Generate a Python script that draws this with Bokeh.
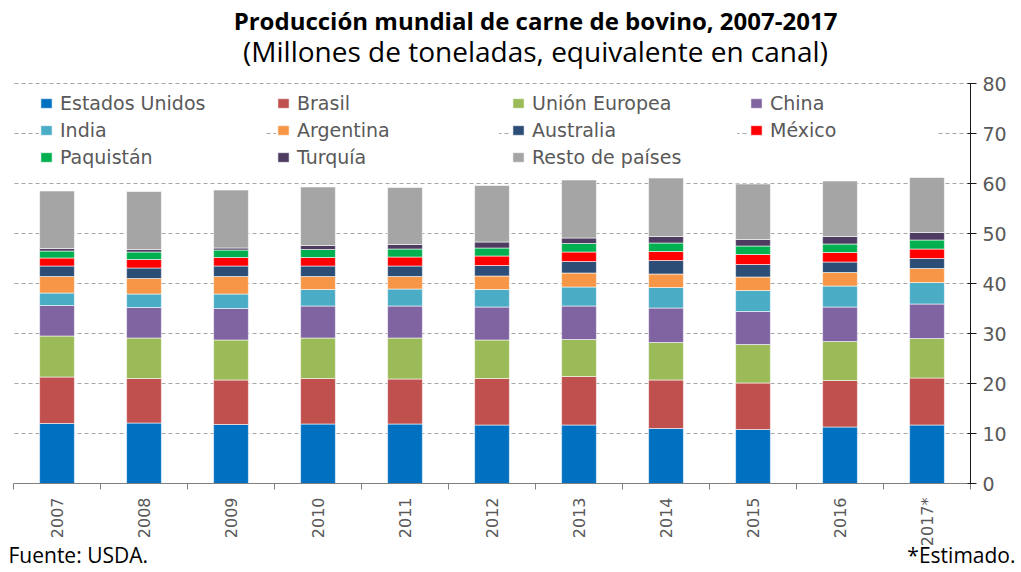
import math
from bokeh.plotting import figure
from bokeh.models import (ColumnDataSource, FixedTicker, Range1d, Label, Legend, LegendItem,
                          LinearAxis)
from bokeh.embed import file_html
from bokeh.resources import INLINE

years = ["2007", "2008", "2009", "2010", "2011", "2012", "2013", "2014", "2015", "2016", "2017*"]
estados_unidos = [12.0, 12.1, 11.8, 11.9, 11.9, 11.7, 11.7, 11.0, 10.8, 11.3, 11.7]
brasil = [9.3, 8.9, 8.9, 9.1, 9.0, 9.3, 9.7, 9.7, 9.3, 9.3, 9.4]
union_europea = [8.2, 8.1, 8.0, 8.1, 8.2, 7.7, 7.4, 7.5, 7.7, 7.8, 7.9]
china = [6.1, 6.1, 6.3, 6.4, 6.4, 6.6, 6.7, 6.9, 6.6, 6.9, 6.9]
india = [2.5, 2.7, 2.9, 3.3, 3.4, 3.5, 3.8, 4.1, 4.2, 4.2, 4.3]
argentina = [3.3, 3.1, 3.5, 2.6, 2.5, 2.7, 2.8, 2.7, 2.7, 2.7, 2.8]
australia = [2.1, 2.1, 2.1, 2.1, 2.1, 2.1, 2.3, 2.7, 2.5, 2.1, 2.0]
mexico = [1.6, 1.7, 1.7, 1.7, 1.8, 1.9, 1.9, 1.8, 2.0, 1.9, 1.9]
paquistan = [1.4, 1.5, 1.5, 1.6, 1.6, 1.6, 1.7, 1.7, 1.7, 1.7, 1.8]
turquia = [0.5, 0.5, 0.4, 0.8, 0.9, 1.2, 1.1, 1.3, 1.3, 1.5, 1.5]
resto = [11.5, 11.6, 11.6, 11.7, 11.4, 11.3, 11.6, 11.7, 11.1, 11.1, 11.0]

series_keys = ["eu", "br", "ue", "cn", "in", "ar", "au", "mx", "pk", "tr", "rp"]
series_vals = [estados_unidos, brasil, union_europea, china, india, argentina,
               australia, mexico, paquistan, turquia, resto]
series_names = ["Estados Unidos", "Brasil", "Unión Europea", "China", "India", "Argentina",
                "Australia", "México", "Paquistán", "Turquía", "Resto de países"]
colors = ["#0070C0", "#C0504D", "#9BBB59", "#8064A2", "#4BACC6", "#F79646",
          "#2C4D75", "#FF0000", "#00B050", "#4D3B62", "#A5A5A5"]

Y_MAX = 80
n = len(years)
xs = list(range(n))
data = {"x": xs}
for k, v in zip(series_keys, series_vals):
    data[k] = v
src = ColumnDataSource(data)

# canvas geometry (pixels)
W, H = 1021, 570
PLOT_L, PLOT_R = 13, 970       # plot area in canvas pixels
PLOT_T, PLOT_B = 83, 483
cat_px = (PLOT_R - PLOT_L) / n
val_px = (PLOT_B - PLOT_T) / Y_MAX

x_range = Range1d(-0.5 - PLOT_L / cat_px, n - 0.5 + (W - PLOT_R) / cat_px)
y_range = Range1d(-(H - PLOT_B) / val_px, Y_MAX + PLOT_T / val_px)

p = figure(width=W, height=H, output_backend="svg", toolbar_location=None,
           x_range=x_range, y_range=y_range, x_axis_type=None, y_axis_type=None,
           min_border_left=0, min_border_right=0, min_border_top=0, min_border_bottom=0)
p.outline_line_color = None
p.background_fill_color = "white"
p.border_fill_color = "white"

# dashed gridlines (drawn as long inward ticks of a label-less axis, behind the bars)
grid_axis = LinearAxis(fixed_location=n - 0.5, bounds=(0, Y_MAX),
                       ticker=FixedTicker(ticks=list(range(10, Y_MAX + 1, 10))))
grid_axis.level = "underlay"
grid_axis.axis_line_color = None
grid_axis.major_tick_in = PLOT_R - PLOT_L
grid_axis.major_tick_out = 0
grid_axis.major_tick_line_color = "#A6A6A6"
grid_axis.major_tick_line_dash = "4 3"
grid_axis.major_tick_line_width = 1
grid_axis.minor_tick_line_color = None
grid_axis.major_label_overrides = {t: "" for t in range(10, Y_MAX + 1, 10)}
p.add_layout(grid_axis, "right")

renderers = p.vbar_stack(series_keys, x="x", width=0.4, color=colors, source=src,
                         line_color="white", line_width=0.8, line_alpha=0.7)

# y axis (right)
yax = LinearAxis(fixed_location=n - 0.5, bounds=(0, Y_MAX),
                 ticker=FixedTicker(ticks=list(range(0, Y_MAX + 1, 10))))
yax.axis_line_color = "#1a1a1a"
yax.major_tick_line_color = "#1a1a1a"
yax.major_tick_in = 3
yax.major_tick_out = 6
yax.minor_tick_line_color = None
yax.major_label_text_font = "DejaVu Sans"
yax.major_label_text_font_size = "19px"
yax.major_label_text_color = "#595959"
yax.major_label_standoff = 6
p.add_layout(yax, "right")

# x axis (bottom, at zero)
xax = LinearAxis(fixed_location=0, bounds=(-0.5, n - 0.5),
                 ticker=FixedTicker(ticks=xs, minor_ticks=[i - 0.5 for i in range(n + 1)]))
xax.major_label_overrides = {i: y for i, y in enumerate(years)}
xax.major_tick_line_color = None
xax.minor_tick_line_color = "#7f7f7f"
xax.minor_tick_in = 0
xax.minor_tick_out = 6
xax.axis_line_color = "#7f7f7f"
xax.major_label_orientation = math.pi / 2
xax.major_label_text_font = "DejaVu Sans"
xax.major_label_text_font_size = "16px"
xax.major_label_text_color = "#595959"
xax.major_label_standoff = 8
p.add_layout(xax, "below")

# legends: four columns of three rows
LEG_PAD, LEG_ROW, LEG_SP = 6, 24, 3
col_left = [39, 276, 511, 749]
col_w = [237, 235, 238, 201]
legend_top = 79
for c in range(4):
    items = []
    for r in range(3):
        idx = r * 4 + c
        if idx < len(series_names):
            items.append(LegendItem(label=series_names[idx], renderers=[renderers[idx]]))
    k = len(items)
    h = 2 * LEG_PAD + k * LEG_ROW + (k - 1) * LEG_SP
    leg = Legend(items=items, location=(col_left[c], H - (legend_top + h)),
                 orientation="vertical",
                 padding=LEG_PAD, spacing=LEG_SP, margin=0,
                 glyph_width=14, glyph_height=12, label_standoff=7,
                 label_width=col_w[c] - 2 * LEG_PAD - 14 - 7, label_height=LEG_ROW,
                 label_text_font="DejaVu Sans", label_text_font_size="19px",
                 label_text_color="#595959",
                 background_fill_color="white", background_fill_alpha=1.0,
                 border_line_color=None)
    p.add_layout(leg, "center")

# titles and notes
p.add_layout(Label(x=535, y=H - 20, x_units="screen", y_units="screen",
                   text="Producción mundial de carne de bovino, 2007-2017",
                   text_font="Open Sans", text_font_style="bold", text_font_size="24px",
                   text_color="#000000", text_align="center", text_baseline="middle"))
p.add_layout(Label(x=535, y=H - 50, x_units="screen", y_units="screen",
                   text="(Millones de toneladas, equivalente en canal)",
                   text_font="Open Sans", text_font_size="28px",
                   text_color="#000000", text_align="center", text_baseline="middle"))
p.add_layout(Label(x=8, y=2, x_units="screen", y_units="screen",
                   text="Fuente: USDA.", text_font="Open Sans", text_font_size="21px",
                   text_color="#000000", text_align="left", text_baseline="bottom"))
p.add_layout(Label(x=1015, y=2, x_units="screen", y_units="screen",
                   text="*Estimado.", text_font="Open Sans", text_font_size="21px",
                   text_color="#000000", text_align="right", text_baseline="bottom"))

open("out.html", "w").write(file_html(p, INLINE))
